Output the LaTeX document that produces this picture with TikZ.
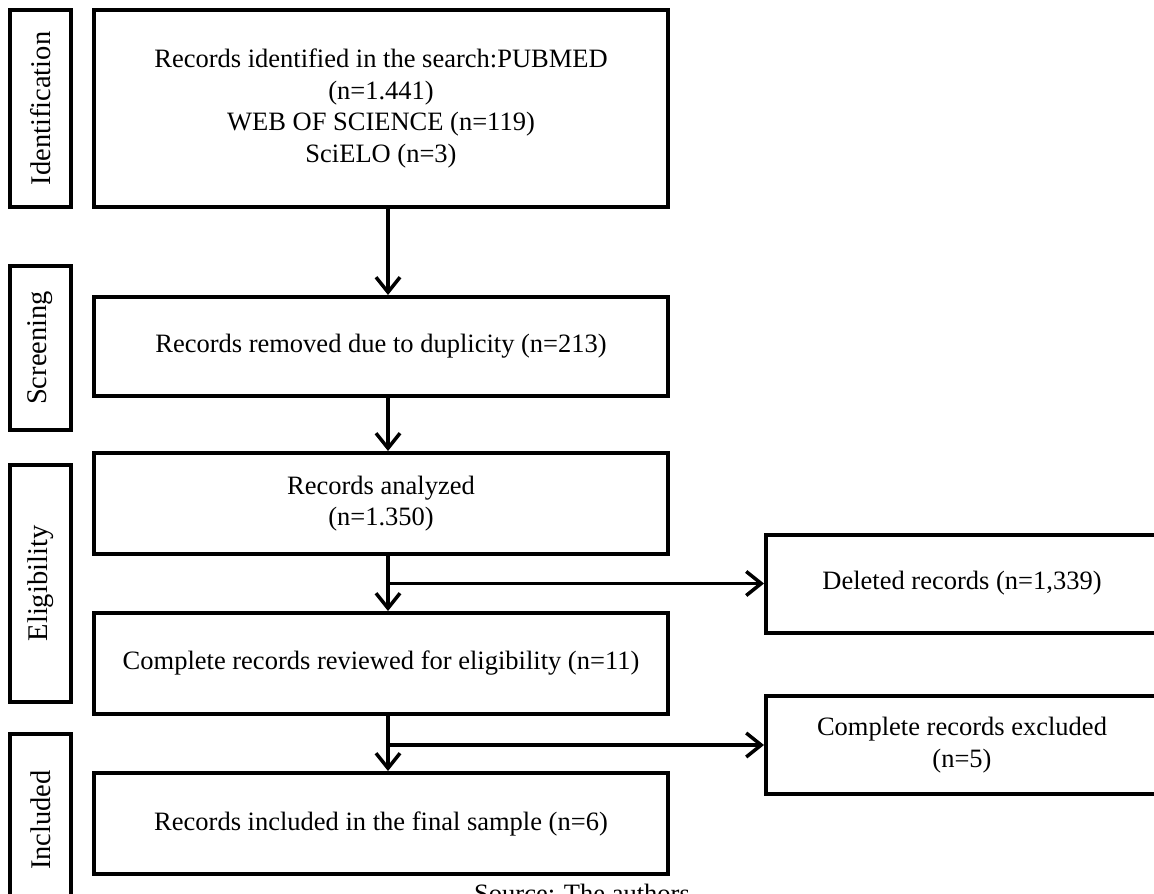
\documentclass[tikz,border=0pt]{standalone}
\usepackage{fontspec}
\setmainfont{Liberation Serif}
\usetikzlibrary{arrows.meta}

\begin{document}
\begin{tikzpicture}[x=1pt,y=-1pt,
    every node/.style={font=\fontsize{26.5}{31.5}\selectfont},
    box/.style={draw,line width=4pt,inner sep=0pt,align=center,minimum width=574pt},
    sidebox/.style={draw,line width=4pt,inner sep=0pt,rotate=90,minimum height=61pt,font=\fontsize{28.5}{32}\selectfont},
    outbox/.style={draw,line width=4pt,inner sep=0pt,align=center,minimum width=392pt,minimum height=98pt},
    flow/.style={line width=3.5pt,-{Straight Barb[length=15pt,width=24pt]}}]
    \useasboundingbox (0,0) rectangle (1154,894);
    \clip (0,0) rectangle (1154,894);
    \node[sidebox,minimum width=197pt] (sideid) at (40.5,108.5) {Identification};
    \node[sidebox,minimum width=164pt] (sidescr) at (40.5,348) {Screening};
    \node[sidebox,minimum width=237pt] (sideelig) at (40.5,583.5) {Eligibility};
    \node[sidebox,minimum width=172pt] (sideinc) at (40.5,820) {Included};
    \node[box,minimum height=197pt] (ident) at (381,108.5) {Records identified in the search:PUBMED\\(n=1.441)\\WEB OF SCIENCE (n=119)\\SciELO (n=3)};
    \node[box,minimum height=99pt] (screen) at (381,346.5) {Records removed due to duplicity (n=213)};
    \node[box,minimum height=101pt] (analyzed) at (381,503.5) {Records analyzed\\(n=1.350)};
    \node[box,minimum height=101pt] (complete) at (381,663.5) {Complete records reviewed for eligibility (n=11)};
    \node[box,minimum height=101pt] (final) at (381,823.5) {Records included in the final sample (n=6)};
    \node[outbox] (deleted) at (962,583.5) {Deleted records (n=1,339)};
    \node[outbox] (excluded) at (962,745) {Complete records excluded\\(n=5)};
    \node[anchor=base] (source) at (582,902) {Source: The authors};
    \coordinate (fork1) at (388,583.5);
    \coordinate (fork2) at (388,745);
    \draw[flow] ([xshift=7pt]ident.south) -- ([xshift=7pt]screen.north);
    \draw[flow] ([xshift=7pt]screen.south) -- ([xshift=7pt]analyzed.north);
    \draw[flow] ([xshift=7pt]analyzed.south) -- ([xshift=7pt]complete.north);
    \draw[flow] ([xshift=7pt]complete.south) -- ([xshift=7pt]final.north);
    \draw[flow] (fork1) -- (deleted.west);
    \draw[flow] (fork2) -- (excluded.west);
\end{tikzpicture}
\end{document}
